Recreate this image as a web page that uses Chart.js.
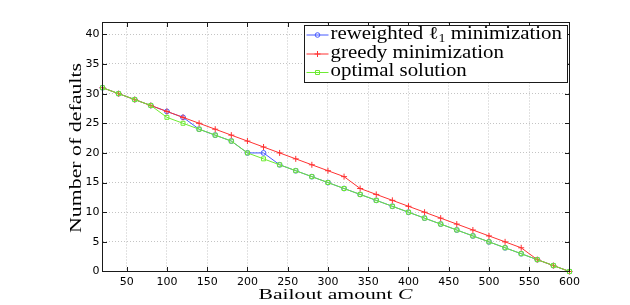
<!DOCTYPE html>
<html><head><meta charset="utf-8">
<script src="https://cdn.jsdelivr.net/npm/chart.js@4.4.1/dist/chart.umd.min.js"></script>
<style>html,body{margin:0;padding:0;background:#fff;}canvas{display:block;}</style>
</head><body>
<canvas id="c" width="630" height="305"></canvas>
<script>
const bailout = [20,40,60,80,100,120,140,160,180,200,220,240,260,280,300,320,340,360,380,400,420,440,460,480,500,520,540,560,580,600];
const reweightedL1 = [31,30,29,28,27,26,24,23,22,20,20,18,17,16,15,14,13,12,11,10,9,8,7,6,5,4,3,2,1,0];
const greedy = [31,30,29,28,27,26,25,24,23,22,21,20,19,18,17,16,14,13,12,11,10,9,8,7,6,5,4,2,1,0];
const optimal = [31,30,29,28,26,25,24,23,22,20,19,18,17,16,15,14,13,12,11,10,9,8,7,6,5,4,3,2,1,0];
const xTickValues = [50,100,150,200,250,300,350,400,450,500,550,600];
const yTickValues = [0,5,10,15,20,25,30,35,40];
const xTitleMain = 'Bailout amount ';
const xTitleVar = 'C';
const yTitle = 'Number of defaults';
const legendParts = [
  [['reweighted ', 0], ['ℓ', 0], ['1', 1], [' minimization', 0]],
  [['greedy minimization', 0]],
  [['optimal solution', 0]]
];

const BLUE = 'rgb(70,90,255)';
const RED = 'rgb(255,50,50)';
const GREEN = 'rgb(110,235,50)';
const SERIF = '"Liberation Serif","DejaVu Serif",serif';

function toXY(ys){ return bailout.map((x,i)=>({x:x,y:ys[i]})); }

const CA = {left:102.5, right:569.5, top:22.5, bottom:271.5};

function drawParts(ctx, parts, x, y, size, sx, align){
  // parts: [text, isSub]
  let total = 0;
  const widths = parts.map(p=>{
    ctx.font = (p[1] ? Math.round(size*0.68)+'px ' : size+'px ') + SERIF;
    if (p[2]) ctx.font = 'italic ' + ctx.font;
    const w = ctx.measureText(p[0]).width; total += w; return w;
  });
  ctx.save();
  ctx.translate(x, y);
  ctx.scale(sx, 1);
  let cx = align === 'center' ? -total/2 : 0;
  ctx.textAlign = 'left';
  ctx.textBaseline = 'alphabetic';
  ctx.fillStyle = '#000';
  parts.forEach((p,i)=>{
    ctx.font = (p[1] ? Math.round(size*0.68)+'px ' : size+'px ') + SERIF;
    if (p[2]) ctx.font = 'italic ' + ctx.font;
    ctx.fillText(p[0], cx, p[1] ? size*0.22 : 0);
    cx += widths[i];
  });
  ctx.restore();
  return total;
}
function partsWidth(ctx, parts, size){
  let t=0; parts.forEach(p=>{ ctx.font=(p[1]?Math.round(size*0.68)+'px ':size+'px ')+SERIF; if(p[2]) ctx.font='italic '+ctx.font; t+=ctx.measureText(p[0]).width;}); return t;
}

const decor = {
  id:'decor',
  afterDraw(chart){
    const ctx = chart.ctx, a = chart.chartArea;
    const xs = chart.scales.x, ys = chart.scales.y;
    ctx.save();
    // frame
    ctx.strokeStyle = '#1a1a1a'; ctx.lineWidth = 1; ctx.setLineDash([]);
    ctx.strokeRect(a.left, a.top, a.right-a.left, a.bottom-a.top);
    // inner tick marks
    ctx.beginPath();
    xTickValues.forEach(v=>{
      const p = Math.round(xs.getPixelForValue(v))+0.5;
      if (p > a.right-1) return;
      ctx.moveTo(p, a.bottom); ctx.lineTo(p, a.bottom-4.5);
      ctx.moveTo(p, a.top); ctx.lineTo(p, a.top+4.5);
    });
    yTickValues.forEach(v=>{
      const p = Math.round(ys.getPixelForValue(v))+0.5;
      if (p > a.bottom-1) return;
      ctx.moveTo(a.left, p); ctx.lineTo(a.left+4.5, p);
      ctx.moveTo(a.right, p); ctx.lineTo(a.right-4.5, p);
    });
    ctx.stroke();
    // x title
    const xp = [[xTitleMain,0],[xTitleVar,0,1]];
    const xw = partsWidth(ctx, xp, 15);
    drawParts(ctx, xp, 335.5, 298.5, 15, 154/xw, 'center');
    // y title
    ctx.save();
    ctx.translate(81, 148);
    ctx.rotate(-Math.PI/2);
    const yp = [[yTitle,0]];
    const yw = partsWidth(ctx, yp, 16);
    drawParts(ctx, yp, 0, 0, 16, 170/yw, 'center');
    ctx.restore();
    // legend
    const L = {l:304.5, t:25.5, r:567.5, b:82.5};
    ctx.fillStyle = '#fff';
    ctx.fillRect(L.l, L.t, L.r-L.l, L.b-L.t);
    ctx.strokeStyle = '#1a1a1a'; ctx.lineWidth = 1;
    ctx.strokeRect(L.l, L.t, L.r-L.l, L.b-L.t);
    const rowsY = [35, 54, 72.5];
    const baseY = [38.5, 57.5, 76];
    const cols = [BLUE, RED, GREEN];
    const styles = ['circle','cross','rect'];
    rowsY.forEach((ry,i)=>{
      ctx.strokeStyle = cols[i]; ctx.lineWidth = 1;
      ctx.beginPath(); ctx.moveTo(306.5, ry); ctx.lineTo(328.5, ry); ctx.stroke();
      ctx.beginPath();
      const mx = 317.5;
      if (styles[i]==='circle'){ ctx.arc(mx, ry, 2.3, 0, Math.PI*2); }
      else if (styles[i]==='cross'){ ctx.moveTo(mx-3, ry); ctx.lineTo(mx+3, ry); ctx.moveTo(mx, ry-3); ctx.lineTo(mx, ry+3); }
      else { ctx.rect(mx-2, ry-2, 4, 4); }
      ctx.stroke();
      drawParts(ctx, legendParts[i], 330.5, baseY[i], 18, 1.16, 'left');
    });
    ctx.restore();
  }
};

const common = {fill:false, tension:0, borderWidth:1, clip:false, pointBorderWidth:1, pointBackgroundColor:'rgba(0,0,0,0)'};

new Chart(document.getElementById('c'), {
  type:'line',
  data:{ datasets:[
    Object.assign({label:'reweighted l1 minimization', data:toXY(reweightedL1), borderColor:BLUE, pointBorderColor:BLUE, pointStyle:'circle', pointRadius:2.4, order:3}, common),
    Object.assign({label:'greedy minimization', data:toXY(greedy), borderColor:RED, pointBorderColor:RED, pointStyle:'cross', pointRadius:3, order:2}, common),
    Object.assign({label:'optimal solution', data:toXY(optimal), borderColor:GREEN, pointBorderColor:GREEN, pointStyle:'rect', pointRadius:2.8, order:1}, common)
  ]},
  options:{
    responsive:false, animation:false, devicePixelRatio:1,
    layout:{padding:{left:0, top:CA.top, right:630-CA.right, bottom:0}},
    plugins:{legend:{display:false}, tooltip:{enabled:false}},
    elements:{point:{hoverRadius:3}},
    scales:{
      x:{type:'linear', min:20, max:600,
        afterBuildTicks(s){ s.ticks = xTickValues.map(v=>({value:v})); },
        afterFit(s){ s.height = 305-CA.bottom; },
        grid:{color:'#c4c4c4', lineWidth:1, drawTicks:false},
        border:{display:false, dash:[1,2]},
        ticks:{padding:4, color:'#000', font:{family:'"DejaVu Sans"', size:11}, maxRotation:0, autoSkip:false}
      },
      y:{type:'linear', min:0, max:42,
        afterBuildTicks(s){ s.ticks = yTickValues.map(v=>({value:v})); },
        afterFit(s){ s.width = CA.left; },
        grid:{color:'#c4c4c4', lineWidth:1, drawTicks:false},
        border:{display:false, dash:[1,2]},
        ticks:{padding:3, color:'#000', font:{family:'"DejaVu Sans"', size:11}, autoSkip:false}
      }
    }
  },
  plugins:[decor]
});
</script>
</body></html>
